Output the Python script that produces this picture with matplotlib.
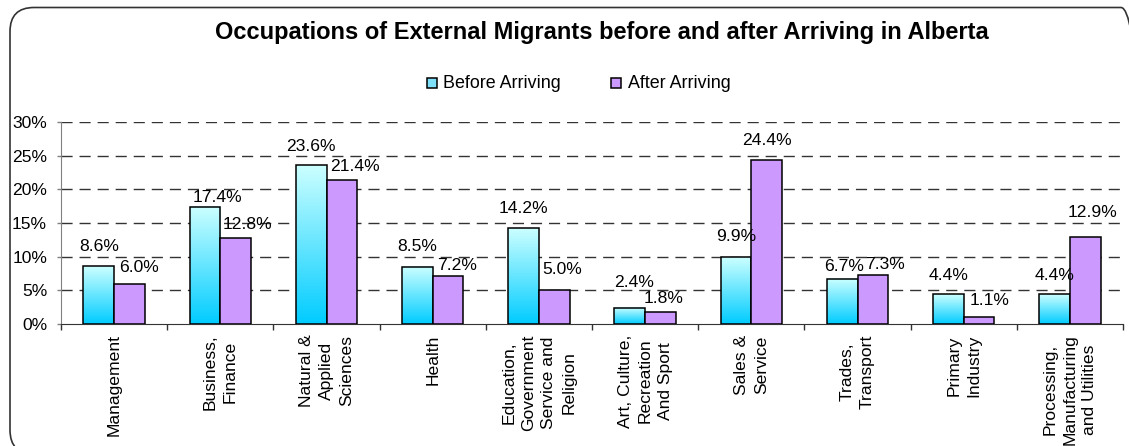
import numpy as np
import matplotlib
matplotlib.use("Agg")
import matplotlib.pyplot as plt
from matplotlib.colors import LinearSegmentedColormap
from matplotlib.patches import Rectangle, FancyBboxPatch
from matplotlib.transforms import Affine2D

categories = ['Management', 'Business,\nFinance', 'Natural &\nApplied\nSciences', 'Health',
              'Education,\nGovernment\nService and\nReligion', 'Art, Culture,\nRecreation\nAnd Sport',
              'Sales &\nService', 'Trades,\nTransport', 'Primary\nIndustry',
              'Processing,\nManufacturing\nand Utilities']
before = [8.6, 17.4, 23.6, 8.5, 14.2, 2.4, 9.9, 6.7, 4.4, 4.4]
after = [6.0, 12.8, 21.4, 7.2, 5.0, 1.8, 24.4, 7.3, 1.1, 12.9]
series_names = ['Before Arriving', 'After Arriving']
yticks = [0, 5, 10, 15, 20, 25, 30]

# label nudges in pixels (dx, gap above bar top)
before_dx = [0, 13, 0, 0, 0, 4, 0, 2, 0, 0]
before_gap = [15, 5, 14, 16, 15, 21, 16, 8, 14, 14]
after_dx = [10, 12, 13, 9, 7.5, 3.5, 0, 12, 10, 7.5]
after_gap = [12, 9, 9, 6, 16, 9, 15, 6, 12, 20]

W, H = 1129, 446
plt.rcParams['font.family'] = ['Liberation Sans', 'DejaVu Sans']
fs = 12.6

fig = plt.figure(figsize=(W / 100, H / 100), dpi=100)
px = Affine2D().scale(1 / W, 1 / H) + fig.transFigure

# rounded chart frame (runs off the right and bottom edge)
frame = FancyBboxPatch((10, -8), 1135, 446.5, boxstyle='round,pad=0,rounding_size=24',
                       transform=px, fill=False, edgecolor='#333333', linewidth=1.2)
fig.add_artist(frame)

ax = fig.add_axes([61 / W, (H - 324) / H, 1062 / W, 202 / H])

blue = LinearSegmentedColormap.from_list('blu', ['#00CCFF', '#CCFFFF'])
grad = np.linspace(0, 1, 256).reshape(-1, 1)
w = 0.29
x = np.arange(len(categories))

for i, v in enumerate(before):
    ax.imshow(grad, extent=[x[i] - w, x[i], 0, v], origin='lower', aspect='auto',
              cmap=blue, zorder=2)
    ax.add_patch(Rectangle((x[i] - w, 0), w, v, fill=False, edgecolor='black',
                           linewidth=1.1, zorder=3))
ax.bar(x + w / 2, after, w, color='#CC99FF', edgecolor='black', linewidth=1.1, zorder=3)

for i in range(len(categories)):
    ax.annotate(f'{before[i]:.1f}%', xy=(x[i] - w / 2, before[i]),
                xytext=(before_dx[i], before_gap[i]), textcoords='offset pixels',
                ha='center', va='baseline', fontsize=fs, zorder=4)
    ax.annotate(f'{after[i]:.1f}%', xy=(x[i] + w / 2, after[i]),
                xytext=(after_dx[i], after_gap[i]), textcoords='offset pixels',
                ha='center', va='baseline', fontsize=fs, zorder=4)

ax.set_xlim(-0.5, len(categories) - 0.5)
ax.set_ylim(0, 30)
for y in yticks[1:]:
    ax.axhline(y, color='#333333', linewidth=1.0, dashes=(8, 5), zorder=1)

ax.set_yticks(yticks)
ax.set_yticklabels([f'{t}%' for t in yticks], fontsize=fs)
ax.tick_params(axis='y', length=3, width=1, color='#808080', pad=7, direction='out')

ax.set_xticks(np.arange(len(categories) + 1) - 0.5)
ax.set_xticklabels([])
ax.set_xticks(x, minor=True)
ax.set_xticklabels(categories, minor=True, rotation=90, ha='center', va='top',
                   multialignment='center', fontsize=fs, linespacing=1.42)
ax.tick_params(axis='x', which='major', length=4, width=1, color='#333333', direction='out')
ax.tick_params(axis='x', which='minor', length=0, pad=7.5)

for s in ['top', 'right']:
    ax.spines[s].set_visible(False)
ax.spines['left'].set_color('#808080')
ax.spines['bottom'].set_color('#333333')

# title and legend
fig.text(601.5 / W, (H - 38.5) / H, 'Occupations of External Migrants before and after Arriving in Alberta',
         ha='center', va='baseline', fontsize=17, fontweight='bold')

lx = [426.7, 611]
lcol = ['#7FE0FA', '#CC99FF']
for k in range(2):
    fig.add_artist(Rectangle((lx[k], H - 88), 10, 10, transform=px, facecolor=lcol[k],
                             edgecolor='black', linewidth=1.1))
    fig.text((lx[k] + 16.5) / W, (H - 88) / H, series_names[k], ha='left', va='baseline',
             fontsize=fs + 0.3)

fig.savefig('out.png', dpi=100)
plt.close(fig)
